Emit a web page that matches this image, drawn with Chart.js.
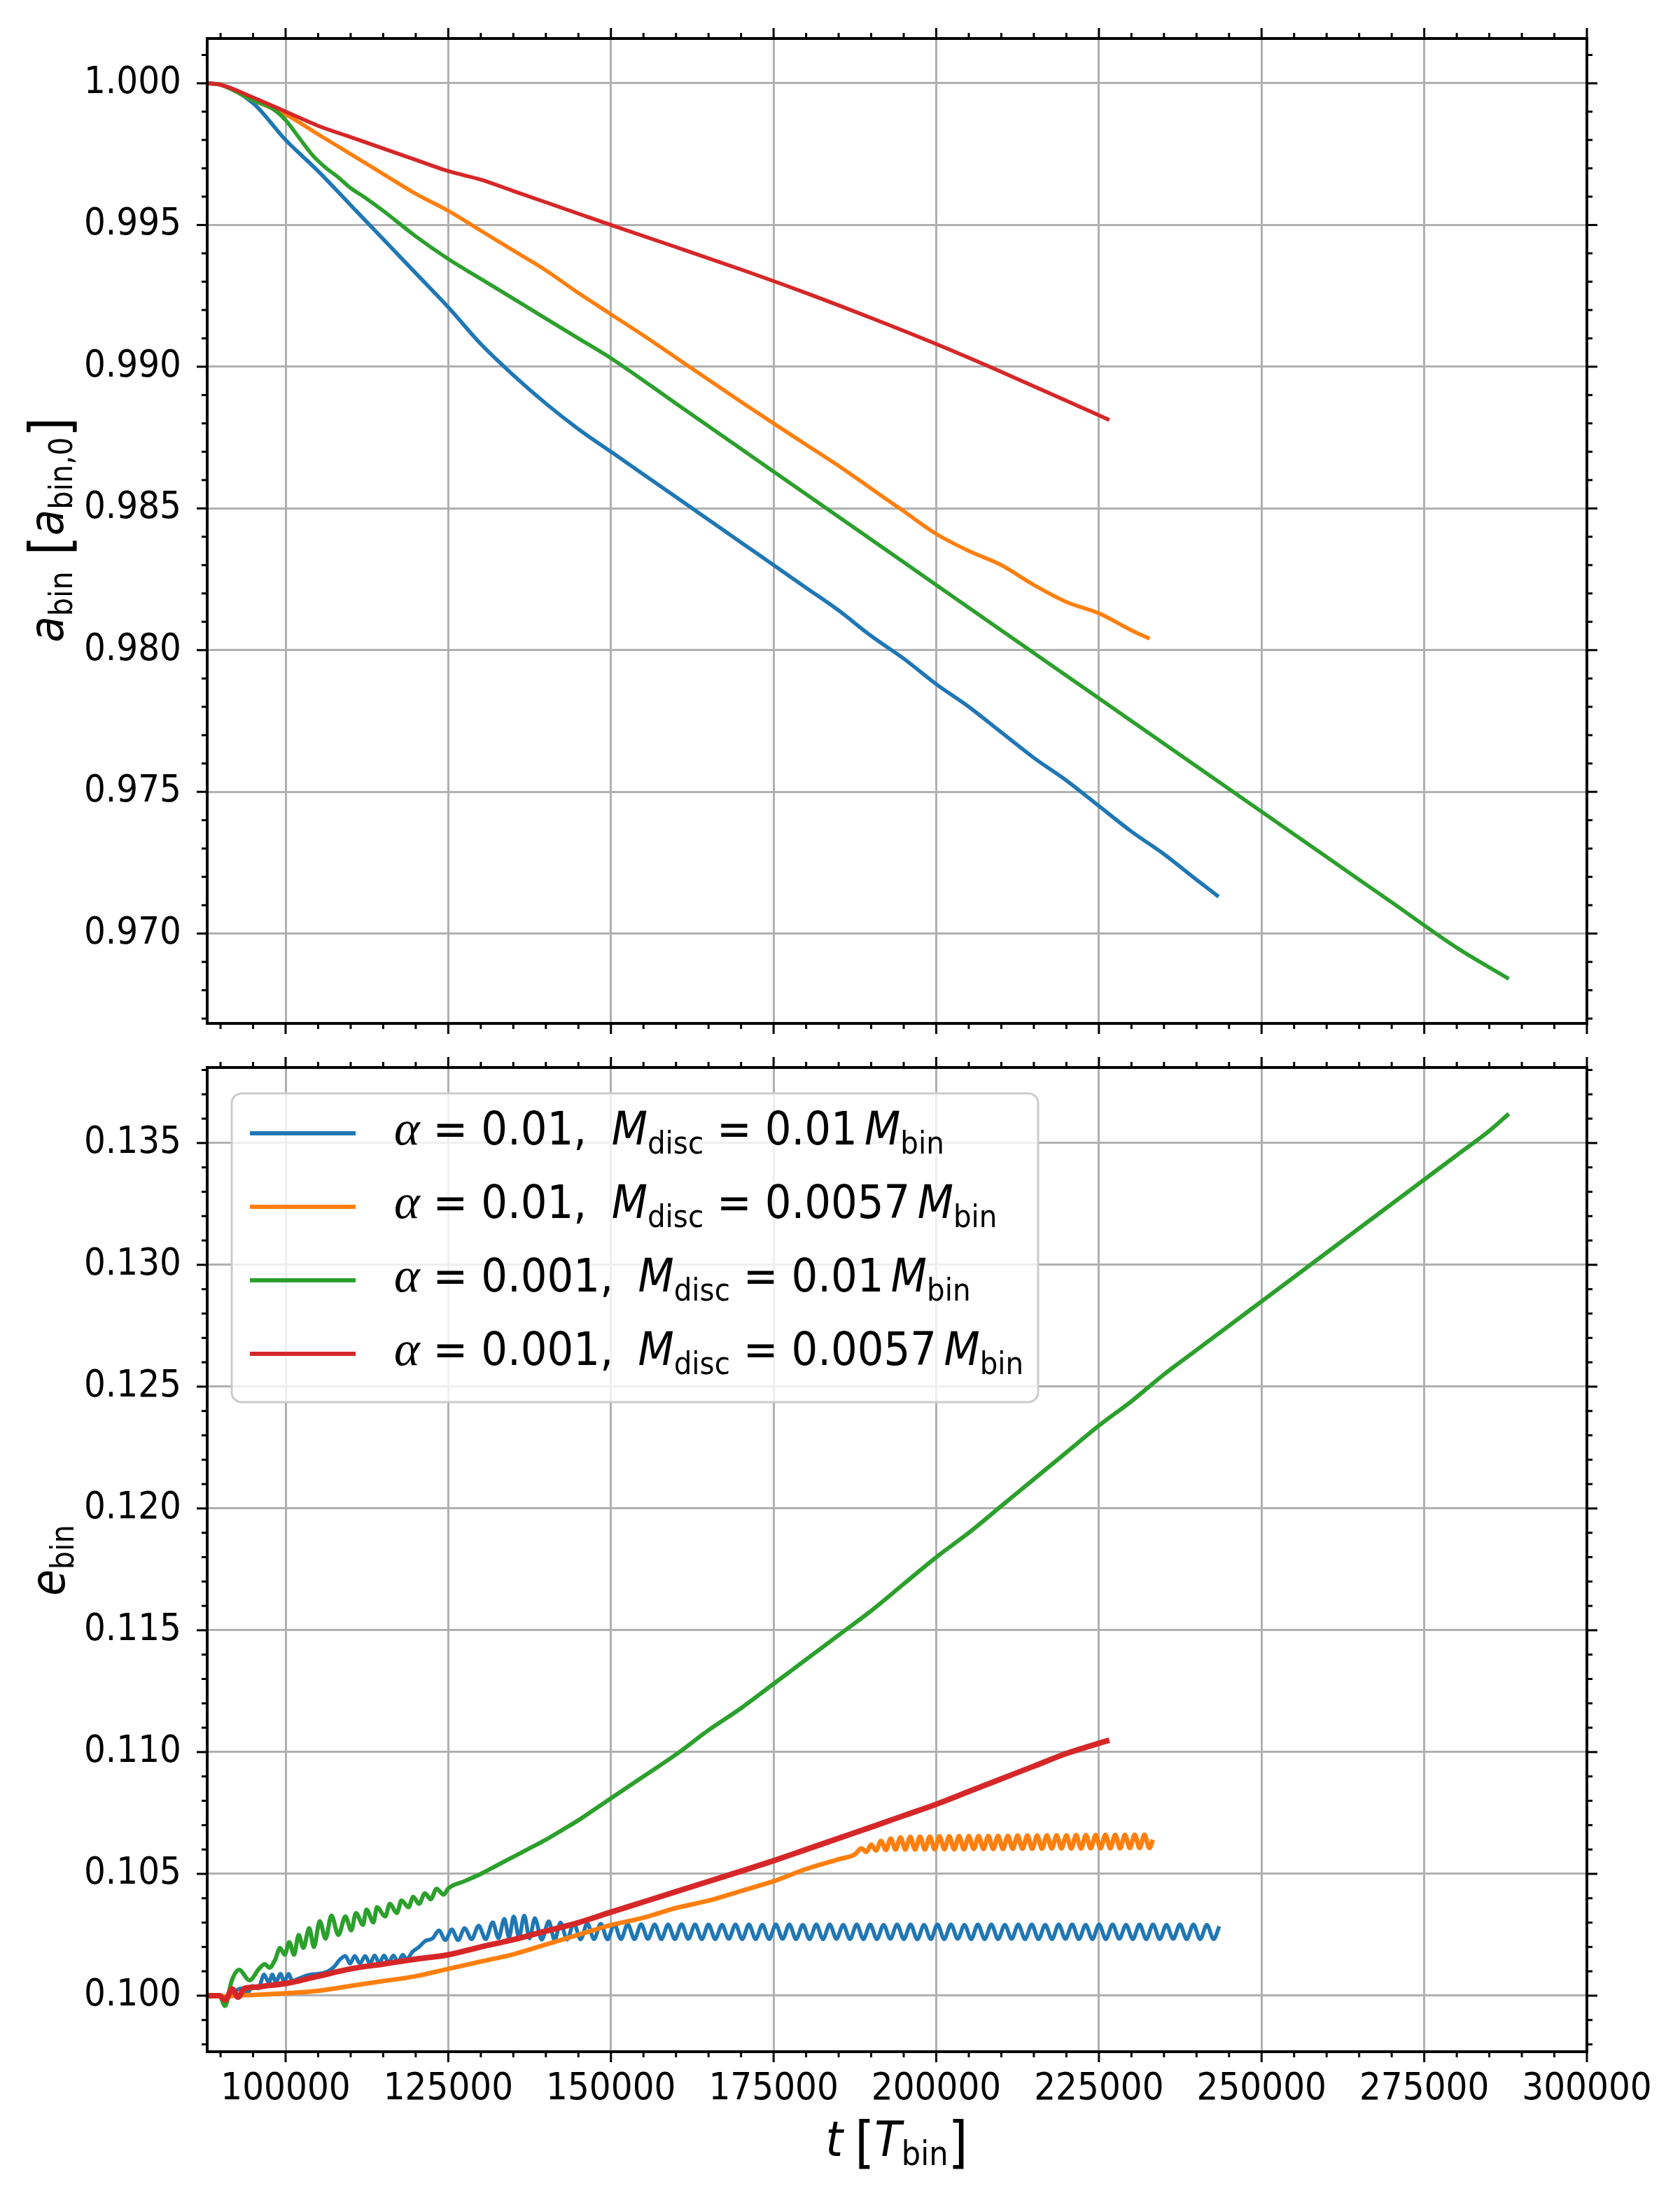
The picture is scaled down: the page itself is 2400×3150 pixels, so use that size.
<!DOCTYPE html>
<html>
<head>
<meta charset="utf-8">
<script src="https://cdn.jsdelivr.net/npm/chart.js@4.4.1/dist/chart.umd.min.js"></script>
<style>
  body { margin: 0; background: #fff; }
  #wrap { position: relative; width: 2400px; height: 3150px; }
  canvas { position: absolute; left: 0; }
</style>
</head>
<body>
<div id="wrap">
  <canvas id="topChart" width="2400" height="1500" style="top:0"></canvas>
  <canvas id="botChart" width="2400" height="1680" style="top:1470px"></canvas>
</div>
<script>
// ---- axes ----
const X_MIN = 87950, X_MAX = 300000;
const xTicks = [100000, 125000, 150000, 175000, 200000, 225000, 250000, 275000, 300000];
const aTicks = [0.970, 0.975, 0.980, 0.985, 0.990, 0.995, 1.000];
const eTicks = [0.100, 0.105, 0.110, 0.115, 0.120, 0.125, 0.130, 0.135];

// ---- legend ----
const alphaVals = ['0.01', '0.01', '0.001', '0.001'];
const discMass = ['0.01', '0.0057', '0.01', '0.0057'];
const colors = ['#1f77b4', '#ff7f0e', '#2ca02c', '#d62728'];

// ---- top panel: a_bin ----
const blueTopT = [87950, 90000, 95000, 100000, 105000, 110000, 115000, 120000, 125000, 130000, 135000, 140000, 145000, 150000, 155000, 160000, 165000, 170000, 175000, 180000, 185000, 190000, 195000, 200000, 205000, 210000, 215000, 220000, 225000, 230000, 235000, 240000, 243400];
const blueTopA = [1.0000, 0.99995, 0.9993, 0.9980, 0.9969, 0.9957, 0.9945, 0.9933, 0.9921, 0.9908, 0.9897, 0.9887, 0.9878, 0.9870, 0.9862, 0.9854, 0.9846, 0.9838, 0.9830, 0.9822, 0.9814, 0.9805, 0.9797, 0.9788, 0.9780, 0.9771, 0.9762, 0.9754, 0.9745, 0.9736, 0.9728, 0.9719, 0.9713];

const orangeTopT = [87950, 90000, 95000, 100000, 105000, 110000, 115000, 120000, 125000, 130000, 135000, 140000, 145000, 150000, 155000, 160000, 165000, 170000, 175000, 180000, 185000, 190000, 195000, 200000, 205000, 210000, 215000, 220000, 225000, 230000, 232800];
const orangeTopA = [1.0000, 0.99995, 0.9994, 0.9989, 0.9982, 0.9975, 0.9968, 0.9961, 0.9955, 0.9948, 0.9941, 0.9934, 0.9926, 0.99185, 0.9911, 0.99032, 0.98954, 0.98876, 0.9880, 0.98725, 0.9865, 0.9857, 0.9849, 0.9841, 0.9835, 0.9830, 0.9823, 0.9817, 0.9813, 0.9807, 0.9804];

const greenTopT = [87950, 90000, 95000, 98000, 100000, 102000, 104000, 106000, 108000, 110000, 112000, 115000, 120000, 125000, 130000, 135000, 140000, 145000, 150000, 160000, 170000, 180000, 190000, 200000, 210000, 220000, 230000, 240000, 250000, 260000, 270000, 280000, 288000];
const greenTopA = [1.0000, 0.99995, 0.9994, 0.9991, 0.9987, 0.9981, 0.9975, 0.99705, 0.9967, 0.9963, 0.9960, 0.9955, 0.9946, 0.9938, 0.9931, 0.9924, 0.9917, 0.9910, 0.9903, 0.9887, 0.9871, 0.9855, 0.9839, 0.9823, 0.9807, 0.9791, 0.9775, 0.9759, 0.9743, 0.9727, 0.9711, 0.9695, 0.9684];

const redTopT = [87950, 90000, 95000, 100000, 105000, 110000, 115000, 120000, 125000, 130000, 135000, 140000, 145000, 150000, 160000, 170000, 180000, 190000, 200000, 210000, 220000, 226600];
const redTopA = [1.0000, 0.99995, 0.9995, 0.9990, 0.9985, 0.9981, 0.9977, 0.9973, 0.9969, 0.9966, 0.9962, 0.9958, 0.9954, 0.9950, 0.99422, 0.99343, 0.9926, 0.99172, 0.9908, 0.98982, 0.9888, 0.98812];

// ---- bottom panel: e_bin ----
const blueBotT = [87950, 89800, 90800, 91800, 93250, 94150, 94900, 95800, 96700, 97420, 97960, 98500, 99220, 99760, 100480, 101020,
  102000, 103500, 105000, 106500, 107500, 108400, 109190, 109910, 110630, 111420, 112240, 112960, 113680, 114400, 115120, 115840,
  116560, 117280, 118000, 118600, 119500, 120500, 121500, 122600, 123560, 124550, 125540, 126520, 127510, 128590, 129670, 130750,
  131830, 132720, 133620, 134340, 135060, 135870, 136680, 137490, 138300, 139370, 140450, 141350, 142250, 143250,
  144300, 145335, 146370, 147405, 148440, 149475, 150510, 151545, 152580, 153615, 154650, 155685, 156720, 157755, 158790, 159825,
  160860, 161895, 162930, 163965, 165000, 166035, 167070, 168105, 169140, 170175, 171210, 172245, 173280, 174315, 175350, 176385,
  177420, 178455, 179490, 180525, 181560, 182595, 183630, 184665, 185700, 186735, 187770, 188805, 189840, 190875, 191910, 192945,
  193980, 195015, 196050, 197085, 198120, 199155, 200190, 201225, 202260, 203295, 204330, 205365, 206400, 207435, 208470, 209505,
  210540, 211575, 212610, 213645, 214680, 215715, 216750, 217785, 218820, 219855, 220890, 221925, 222960, 223995, 225030, 226065,
  227100, 228135, 229170, 230205, 231240, 232275, 233310, 234345, 235380, 236415, 237450, 238485, 239520, 240555, 241590, 242625, 243500];
const blueBotE = [0.10000, 0.10000, 0.09990, 0.10010, 0.10030, 0.10010, 0.10040, 0.10030, 0.10087, 0.10053, 0.10087, 0.10055, 0.10090, 0.10058, 0.10090, 0.10060,
  0.10070, 0.10085, 0.10090, 0.10100, 0.10120, 0.10150, 0.10163, 0.10132, 0.10163, 0.10132, 0.10163, 0.10132, 0.10165, 0.10134, 0.10165, 0.10135,
  0.10165, 0.10138, 0.10168, 0.10150, 0.10180, 0.10200, 0.10225, 0.10235, 0.10268, 0.10228, 0.10272, 0.10228, 0.10277, 0.10232, 0.10287, 0.10232,
  0.10301, 0.10236, 0.10315, 0.10239, 0.10325, 0.10240, 0.10329, 0.10235, 0.10318, 0.10230, 0.10305, 0.10228, 0.10300, 0.10230,
  0.10297, 0.10231, 0.10296, 0.10232, 0.10295, 0.10231, 0.10294, 0.10232, 0.10293, 0.10232, 0.10293, 0.10233, 0.10292, 0.10232, 0.10292, 0.10232,
  0.10293, 0.10233, 0.10292, 0.10232, 0.10292, 0.10232, 0.10291, 0.10233, 0.10292, 0.10232, 0.10292, 0.10232, 0.10291, 0.10232, 0.10292, 0.10233,
  0.10292, 0.10232, 0.10291, 0.10232, 0.10292, 0.10232, 0.10292, 0.10233, 0.10291, 0.10232, 0.10292, 0.10232, 0.10292, 0.10232, 0.10291, 0.10233,
  0.10292, 0.10232, 0.10292, 0.10231, 0.10291, 0.10232, 0.10292, 0.10232, 0.10292, 0.10233, 0.10291, 0.10232, 0.10292, 0.10232, 0.10292, 0.10232,
  0.10291, 0.10233, 0.10292, 0.10232, 0.10292, 0.10232, 0.10291, 0.10232, 0.10292, 0.10233, 0.10292, 0.10232, 0.10291, 0.10232, 0.10292, 0.10232,
  0.10292, 0.10233, 0.10291, 0.10232, 0.10292, 0.10232, 0.10292, 0.10232, 0.10291, 0.10233, 0.10292, 0.10232, 0.10292, 0.10232, 0.10291, 0.10232, 0.10285];

const orangeBotT = [87950, 90000, 91000, 92000, 95000, 100000, 105000, 110000, 115000, 120000, 125000, 130000, 135000, 140000, 145000, 150000,
  155000, 160000, 165000, 170000, 175000, 180000, 185000, 187500,
  188500, 189250, 190000, 190750, 191500, 192250, 193000, 193750, 194500, 195250,
  196000, 196750, 197500, 198250, 199000, 199750, 200500, 201250, 202000, 202750, 203500, 204250, 205000, 205750, 206500, 207250,
  208000, 208750, 209500, 210250, 211000, 211750, 212500, 213250, 214000, 214750, 215500, 216250, 217000, 217750, 218500, 219250,
  220000, 220750, 221500, 222250, 223000, 223750, 224500, 225250, 226000, 226750, 227500, 228250, 229000, 229750, 230500, 231250,
  232000, 232750, 233300];
const orangeBotE = [0.10000, 0.10000, 0.09995, 0.10000, 0.10003, 0.10010, 0.10020, 0.10040, 0.10060, 0.10080, 0.10110, 0.10140, 0.10170, 0.10210, 0.10250, 0.10290,
  0.10320, 0.10360, 0.10390, 0.10430, 0.10470, 0.10520, 0.10560, 0.10580,
  0.10605, 0.10590, 0.10620, 0.10596, 0.10635, 0.10598, 0.10645, 0.10600, 0.10650, 0.10600,
  0.10652, 0.10600, 0.10653, 0.10600, 0.10653, 0.10601, 0.10654, 0.10601, 0.10654, 0.10601, 0.10655, 0.10601, 0.10655, 0.10602, 0.10655, 0.10602,
  0.10656, 0.10602, 0.10656, 0.10602, 0.10656, 0.10603, 0.10657, 0.10603, 0.10657, 0.10603, 0.10657, 0.10603, 0.10658, 0.10604, 0.10658, 0.10604,
  0.10658, 0.10604, 0.10659, 0.10604, 0.10659, 0.10605, 0.10659, 0.10605, 0.10660, 0.10605, 0.10660, 0.10605, 0.10660, 0.10606, 0.10661, 0.10606,
  0.10661, 0.10606, 0.10640];

const greenBotT = [87950, 89800, 90700, 91700, 92850, 94470, 95900, 96800, 97520, 98420, 99140, 99860, 100575, 101290, 102010, 102730,
  103630, 104350, 105250, 106140, 107040, 108110, 109190, 110090, 110810, 111890, 112420, 113500, 114040, 115300, 116020, 117100,
  117810, 118890, 119610, 120510, 121410, 122310, 123200, 124280, 125000, 127500, 130000, 132500, 135000, 137500, 140000, 142500,
  145000, 147500, 150000, 155000, 160000, 165000, 170000, 175000, 180000, 185000, 190000, 195000, 200000, 205000, 210000, 215000,
  220000, 225000, 230000, 235000, 240000, 245000, 250000, 255000, 260000, 265000, 270000, 275000, 280000, 285000, 288000];
const greenBotE = [0.10000, 0.10000, 0.09958, 0.10060, 0.10106, 0.10063, 0.10110, 0.10129, 0.10115, 0.10149, 0.10196, 0.10168, 0.10220, 0.10168, 0.10249, 0.10196,
  0.10277, 0.10200, 0.10306, 0.10234, 0.10329, 0.10249, 0.10325, 0.10268, 0.10339, 0.10291, 0.10353, 0.10301, 0.10363, 0.10325, 0.10377, 0.10339,
  0.10391, 0.10363, 0.10406, 0.10377, 0.10420, 0.10396, 0.10439, 0.10415, 0.10440, 0.10470, 0.10500, 0.10535, 0.10570, 0.10605, 0.10640, 0.10680,
  0.10720, 0.10765, 0.10810, 0.10900, 0.10990, 0.11090, 0.11180, 0.11280, 0.11380, 0.11480, 0.11580, 0.11690, 0.11800, 0.11900, 0.12010, 0.12120,
  0.12230, 0.12340, 0.12440, 0.12550, 0.12650, 0.12750, 0.12850, 0.12950, 0.13050, 0.13150, 0.13250, 0.13350, 0.13450, 0.13550, 0.13620];

const redBotT = [87950, 89800, 90700, 91800, 92700, 93700, 95500, 97500, 100000, 105000, 110000, 115000, 120000, 125000, 130000, 135000,
  140000, 145000, 150000, 155000, 160000, 165000, 170000, 175000, 180000, 185000, 190000, 195000, 200000, 205000, 210000, 215000, 220000, 226600];
const redBotE = [0.10000, 0.10000, 0.09982, 0.10027, 0.09994, 0.10030, 0.10035, 0.10042, 0.10050, 0.10080, 0.10110, 0.10130, 0.10150, 0.10168, 0.10200, 0.10230,
  0.10265, 0.10300, 0.10343, 0.10385, 0.10427, 0.10469, 0.10511, 0.10554, 0.10600, 0.10646, 0.10692, 0.10739, 0.10786, 0.10838, 0.10890, 0.10942, 0.10994, 0.11049];

const FONT = '"DejaVu Sans Condensed", "DejaVu Sans", sans-serif';
const SERIF = '"Liberation Serif", "DejaVu Serif", serif';
const up = s => `${s}px ${FONT}`;
const it = s => `italic ${s}px ${FONT}`;

function pts(ts, vs) {
    return ts.map((t, i) => ({ x: t, y: vs[i] }));
}

function series(ts, vs, idx, width) {
    return {
        label: `α = ${alphaVals[idx]}, M_disc = ${discMass[idx]} M_bin`,
        data: pts(ts, vs),
        borderColor: colors[idx],
        borderWidth: width,
        pointRadius: 0,
        fill: false,
        cubicInterpolationMode: 'monotone',
        order: 3 - idx
    };
}

// text with sub-scripts, drawn run by run
function drawRich(ctx, runs, x, y) {
    let w = 0;
    runs.forEach(r => { ctx.font = r.font; w += ctx.measureText(r.text).width; });
    let cx = x - w / 2;
    runs.forEach(r => {
        ctx.font = r.font;
        ctx.fillText(r.text, cx, y + (r.dy || 0));
        cx += ctx.measureText(r.text).width;
    });
}

function line(ctx, x1, y1, x2, y2) {
    ctx.beginPath(); ctx.moveTo(x1, y1); ctx.lineTo(x2, y2); ctx.stroke();
}

const framePlugin = {
    id: 'frame',
    afterDatasetsDraw(chart, args, o) {
        if (!o.legend) return;
        const ctx = chart.ctx;
        const L = 331, R = 1483, T = 92, B = 533, rad = 14;
        ctx.save();
        ctx.beginPath();
        ctx.moveTo(L + rad, T);
        ctx.arcTo(R, T, R, B, rad); ctx.arcTo(R, B, L, B, rad);
        ctx.arcTo(L, B, L, T, rad); ctx.arcTo(L, T, R, T, rad);
        ctx.closePath();
        ctx.fillStyle = 'rgba(255,255,255,0.8)';
        ctx.fill();
        ctx.strokeStyle = '#cccccc';
        ctx.lineWidth = 3;
        ctx.stroke();
        ctx.fillStyle = '#000';
        ctx.textBaseline = 'alphabetic';
        ctx.textAlign = 'left';
        alphaVals.forEach((a, i) => {
            const yc = 149 + i * 105;
            ctx.strokeStyle = colors[i];
            ctx.lineWidth = 6;
            line(ctx, 357, yc, 508, yc);
            const runs = [
                { text: 'α', font: `italic 70px ${SERIF}` },
                { text: ' = ', font: up(66) },
                { text: a + ',', font: up(66) },
                { text: '  ', font: up(62) },
                { text: 'M', font: it(66) },
                { text: 'disc', font: up(45), dy: 13 },
                { text: ' = ', font: up(66) },
                { text: discMass[i], font: up(66) },
                { text: ' ', font: up(36) },
                { text: 'M', font: it(66) },
                { text: 'bin', font: up(45), dy: 13 }
            ];
            let cx = 563;
            runs.forEach(r => {
                ctx.font = r.font;
                ctx.fillText(r.text, cx, yc + 16 + (r.dy || 0));
                cx += ctx.measureText(r.text).width;
            });
        });
        ctx.restore();
    },
    afterDraw(chart, args, o) {
        const { ctx, chartArea: a } = chart;
        const sx = chart.scales.x, sy = chart.scales.y;
        ctx.save();
        ctx.strokeStyle = '#000';
        ctx.lineWidth = 3;
        // x ticks on top and bottom
        for (let n = Math.ceil(sx.min / o.xMinor); n * o.xMinor <= sx.max + 1; n++) {
            const v = n * o.xMinor;
            const len = o.xMajor.some(m => Math.abs(m - v) < 1) ? 15 : 8;
            const p = sx.getPixelForValue(v);
            line(ctx, p, a.top, p, a.top - len);
            line(ctx, p, a.bottom, p, a.bottom + len);
        }
        // y ticks on left and right
        for (let n = Math.ceil(sy.min / o.yMinor - 1e-6); n <= Math.floor(sy.max / o.yMinor + 1e-6); n++) {
            const v = n * o.yMinor;
            const len = o.yMajor.some(m => Math.abs(m - v) < o.yMinor / 10) ? 15 : 8;
            const p = sy.getPixelForValue(v);
            line(ctx, a.left, p, a.left - len, p);
            line(ctx, a.right, p, a.right + len, p);
        }
        ctx.lineWidth = 4;
        ctx.strokeRect(a.left, a.top, a.right - a.left, a.bottom - a.top);

        // axis titles
        ctx.fillStyle = '#000';
        ctx.textAlign = 'left';
        ctx.textBaseline = 'alphabetic';
        o.titles.forEach(t => {
            ctx.save();
            ctx.translate(t.x, t.y);
            if (t.rotate) ctx.rotate(-Math.PI / 2);
            drawRich(ctx, t.runs, 0, 0);
            ctx.restore();
        });
        ctx.restore();
    }
};

// fixed box sizes; the label overhang paddings are zeroed so the plot area stays put
function scales(yMin, yMax, yTicks, showX, xHeight) {
    const grid = { color: '#b0b0b0', lineWidth: 3, drawTicks: false };
    return {
        x: {
            type: 'linear', min: X_MIN, max: X_MAX,
            afterBuildTicks: s => { s.ticks = xTicks.map(v => ({ value: v })); },
            afterFit: s => { s.height = xHeight; s.paddingLeft = 0; s.paddingRight = 0; },
            grid: grid, border: { display: false },
            ticks: {
                display: showX, color: '#000', padding: 22, maxRotation: 0, autoSkip: false,
                font: { family: FONT, size: 54 },
                callback: v => String(v)
            }
        },
        y: {
            type: 'linear', min: yMin, max: yMax,
            afterBuildTicks: s => { s.ticks = yTicks.map(v => ({ value: v })); },
            afterFit: s => { s.width = 296; s.paddingTop = 0; s.paddingBottom = 0; },
            grid: grid, border: { display: false },
            ticks: {
                color: '#000', padding: 37, autoSkip: false,
                font: { family: FONT, size: 54 },
                callback: v => v.toFixed(3)
            }
        }
    };
}

const baseOpts = {
    responsive: false, maintainAspectRatio: false, devicePixelRatio: 1,
    animation: false, events: []
};

new Chart(document.getElementById('topChart'), {
    type: 'line',
    data: {
        datasets: [
            series(blueTopT, blueTopA, 0, 5.5),
            series(orangeTopT, orangeTopA, 1, 5.5),
            series(greenTopT, greenTopA, 2, 5.5),
            series(redTopT, redTopA, 3, 5.5)
        ]
    },
    options: Object.assign({}, baseOpts, {
        layout: { autoPadding: false, padding: { top: 55, right: 133, left: 0, bottom: 0 } },
        scales: scales(0.96683, 1.00158, aTicks, false, 38),
        plugins: {
            legend: { display: false }, tooltip: { enabled: false },
            frame: {
                xMajor: xTicks, xMinor: 5000, yMajor: aTicks, yMinor: 0.001, legend: false,
                titles: [{
                    x: 90, y: 757, rotate: true,
                    runs: [
                        { text: 'a', font: it(68) },
                        { text: 'bin', font: up(46), dy: 13 },
                        { text: '  ', font: up(40) },
                        { text: '[', font: up(80), dy: 9 },
                        { text: 'a', font: it(68) },
                        { text: 'bin,0', font: up(46), dy: 13 },
                        { text: ']', font: up(80), dy: 9 }
                    ]
                }]
            }
        }
    }),
    plugins: [framePlugin]
});

new Chart(document.getElementById('botChart'), {
    type: 'line',
    data: {
        datasets: [
            series(blueBotT, blueBotE, 0, 5.5),
            series(orangeBotT, orangeBotE, 1, 6.5),
            series(greenBotT, greenBotE, 2, 6),
            series(redBotT, redBotE, 3, 8)
        ]
    },
    options: Object.assign({}, baseOpts, {
        layout: { autoPadding: false, padding: { top: 55, right: 133, left: 0, bottom: 0 } },
        scales: scales(0.0977, 0.1381, eTicks, true, 219),
        plugins: {
            legend: { display: false }, tooltip: { enabled: false },
            frame: {
                xMajor: xTicks, xMinor: 5000, yMajor: eTicks, yMinor: 0.001, legend: true,
                titles: [
                    {
                        x: 92, y: 759, rotate: true,
                        runs: [
                            { text: 'e', font: it(68) },
                            { text: 'bin', font: up(46), dy: 13 }
                        ]
                    },
                    {
                        x: 1281, y: 1610, rotate: false,
                        runs: [
                            { text: 't', font: it(70) },
                            { text: ' ', font: up(60) },
                            { text: '[', font: up(80), dy: 8 },
                            { text: 'T', font: it(70) },
                            { text: 'bin', font: up(48), dy: 13 },
                            { text: ']', font: up(80), dy: 8 }
                        ]
                    }
                ]
            }
        }
    }),
    plugins: [framePlugin]
});
</script>
</body>
</html>
